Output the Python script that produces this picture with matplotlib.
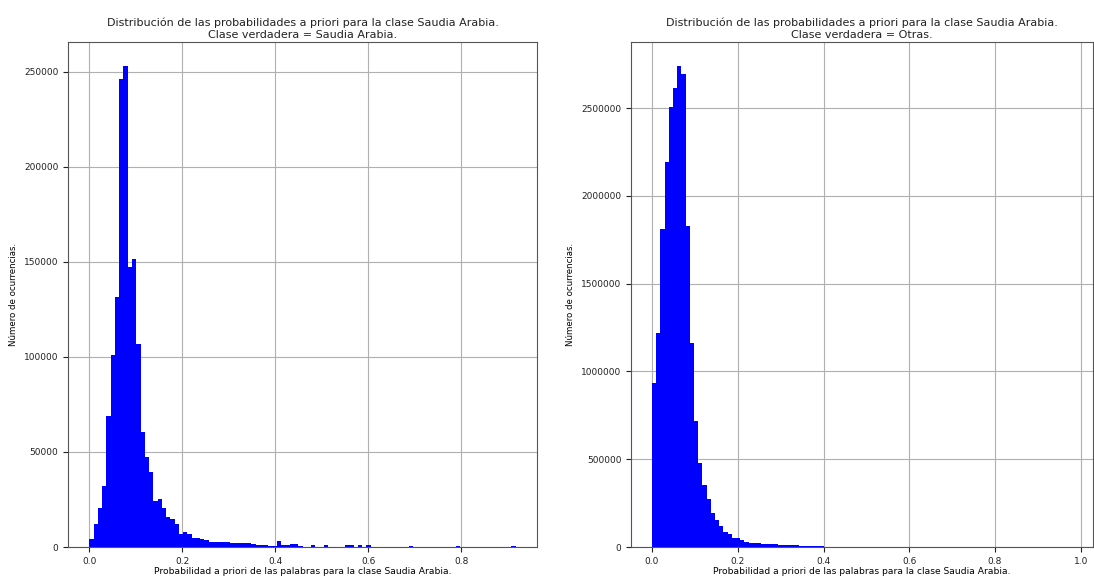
import numpy as np
import matplotlib
matplotlib.use("Agg")
import matplotlib.pyplot as plt

# counts per bin (100 bins each)
left_max = 0.917
left_counts = [
    4200, 12100, 20700, 32100, 68900, 101200, 131600, 246100, 253000, 147500,
    151600, 106700, 60700, 47200, 39600, 24200, 25100, 20400, 16000, 14700,
    12100, 6800, 8000, 7000, 5000, 5000, 4200, 3500, 2900, 2800,
    2900, 2500, 2600, 2300, 2200, 1900, 2000, 2300, 1500, 1300,
    1200, 800, 700, 600, 3000, 1000, 1200, 1600, 1400, 700,
    0, 0, 1200, 0, 0, 900, 0, 0, 0, 0,
    1200, 1000, 0, 1200, 0, 1200, 0, 0, 0, 0,
    0, 0, 0, 0, 0, 700, 0, 0, 0, 0,
    0, 0, 0, 0, 0, 0, 700, 0, 0, 0,
    0, 0, 0, 0, 0, 0, 0, 0, 0, 700,
]

right_max = 0.98
right_counts = [
    933000, 1218000, 1813000, 2190000, 2507000, 2616000, 2739000, 2694000, 1831000, 1160000,
    719000, 477000, 354000, 272000, 196000, 154000, 120000, 84000, 72000, 53000,
    49000, 40000, 30000, 25000, 22000, 21000, 20000, 17000, 16000, 15000,
    13000, 12000, 12000, 11000, 9000, 8000, 8000, 7000, 7000, 6000,
    5000, 0, 0, 0, 0, 0, 0, 0, 0, 0,
    0, 0, 0, 0, 0, 0, 0, 0, 0, 0,
    0, 0, 0, 0, 0, 0, 0, 0, 0, 0,
    0, 0, 0, 0, 0, 0, 0, 0, 0, 0,
    0, 0, 0, 0, 0, 0, 0, 0, 0, 0,
    0, 0, 0, 0, 0, 0, 0, 0, 0, 100,
]

titles = [
    "Distribución de las probabilidades a priori para la clase Saudia Arabia.\nClase verdadera = Saudia Arabia.",
    "Distribución de las probabilidades a priori para la clase Saudia Arabia.\nClase verdadera = Otras.",
]
xlabel = "Probabilidad a priori de las palabras para la clase Saudia Arabia."
ylabel = "Número de ocurrencias."

fig = plt.figure(figsize=(10.94, 5.78), dpi=100)
ax1 = fig.add_axes([0.0622, 0.0536, 0.4287, 0.8737])
ax2 = fig.add_axes([0.5768, 0.0536, 0.4225, 0.8737])

for ax, counts, top, title in [(ax1, left_counts, left_max, titles[0]),
                               (ax2, right_counts, right_max, titles[1])]:
    edges = np.linspace(0, top, len(counts) + 1)
    centers = (edges[:-1] + edges[1:]) / 2
    ax.hist(centers, bins=edges, weights=counts, color="blue")
    ax.grid(True, color="#b0b0b0", linewidth=0.8)
    ax.set_axisbelow(True)
    ax.ticklabel_format(axis="y", style="plain")
    ax.tick_params(labelsize=6.5, colors="#222222")
    ax.set_title(title, fontsize=8, pad=3, color="#222222")
    ax.set_xlabel(xlabel, fontsize=6.6, labelpad=1)
    ax.set_ylabel(ylabel, fontsize=6.2)
    for s in ax.spines.values():
        s.set_color("#555555")

fig.savefig("out.png", dpi=100)
